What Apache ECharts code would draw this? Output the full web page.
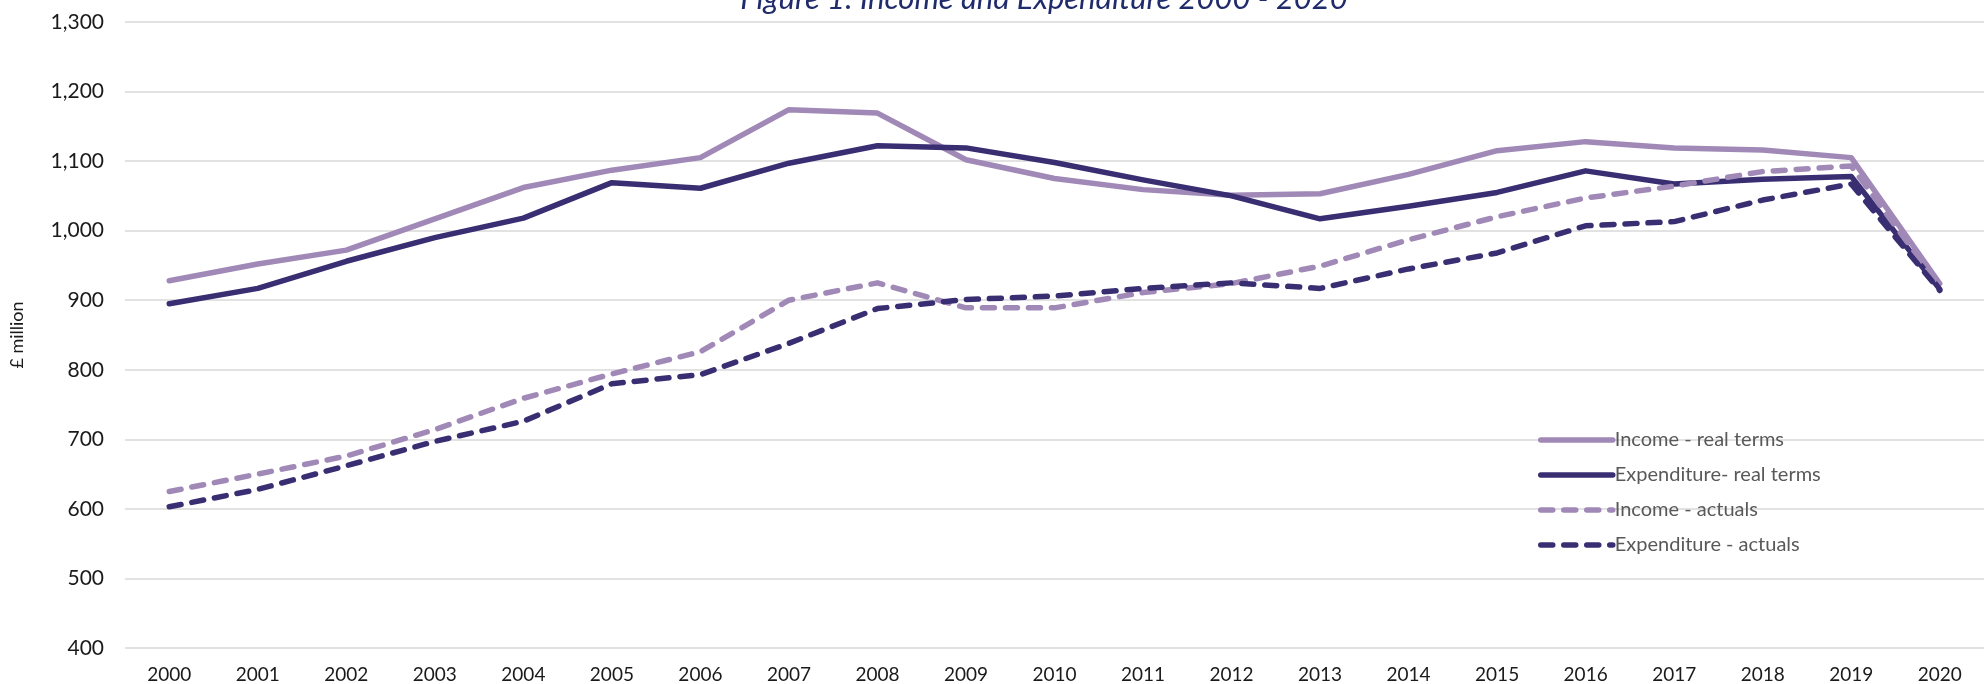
<!DOCTYPE html>
<html>
<head>
<meta charset="utf-8">
<script src="https://cdn.jsdelivr.net/npm/echarts@6/dist/echarts.min.js"></script>
<style>
html,body{margin:0;padding:0;background:#fff;}
#chart{width:1984px;height:684px;}
</style>
</head>
<body>
<div id="chart"></div>
<script>
const years = ['2000','2001','2002','2003','2004','2005','2006','2007','2008','2009','2010','2011','2012','2013','2014','2015','2016','2017','2018','2019','2020'];
const incomeReal = [928, 952, 972, 1017, 1062, 1087, 1105, 1174, 1169, 1102, 1075, 1059, 1051, 1053, 1081, 1115, 1128, 1119, 1116, 1105, 924];
const expenditureReal = [895, 917, 956, 990, 1018, 1069, 1061, 1097, 1122, 1119, 1098, 1073, 1050, 1017, 1035, 1055, 1086, 1067, 1074, 1078, 916];
const incomeActuals = [625, 650, 676, 714, 759, 794, 826, 900, 925, 889, 889, 911, 924, 949, 987, 1020, 1047, 1064, 1085, 1093, 920];
const expenditureActuals = [603, 628, 662, 697, 726, 780, 793, 838, 888, 901, 906, 917, 925, 917, 945, 968, 1007, 1013, 1044, 1067, 914];
const seriesNames = ['Income - real terms', 'Expenditure- real terms', 'Income - actuals', 'Expenditure - actuals'];
const yTicks = {min: 400, max: 1300, interval: 100};
const titleText = 'Figure 1: Income and Expenditure 2000 - 2020';

const LIGHT = '#A189B7';
const DARK = '#3A2E73';
const FONT = 'Lato, "Open Sans", sans-serif';
const dash = [12, 11];

const chart = echarts.init(document.getElementById('chart'), null, {renderer: 'canvas'});

function mk(name, data, color, dashed) {
  return {
    name: name,
    type: 'line',
    data: data,
    symbol: 'none',
    showSymbol: false,
    smooth: false,
    lineStyle: {color: color, width: 5.5, type: dashed ? dash : 'solid', cap: 'round', join: 'round'},
    itemStyle: {color: color},
    emphasis: {disabled: true},
    animation: false
  };
}

chart.setOption({
  animation: false,
  backgroundColor: '#ffffff',
  graphic: [{
    type: 'text',
    x: 1044,
    y: 14,
    style: {
      text: titleText,
      font: 'italic 31px ' + FONT,
      fill: '#1F2B6B',
      textAlign: 'center',
      textVerticalAlign: 'bottom'
    }
  }],
  grid: {left: 115, top: 22, width: 1884, height: 626.5, containLabel: false},
  legend: {
    orient: 'vertical',
    left: 1533,
    top: 425,
    itemWidth: 72,
    itemHeight: 14,
    itemGap: 15,
    data: seriesNames,
    itemStyle: {opacity: 0, borderWidth: 0},
    lineStyle: {width: 5.5, cap: 'round'},
    textStyle: {fontFamily: FONT, fontSize: 20, color: '#595959', padding: [0, 0, 0, -3]},
    selectedMode: false
  },
  xAxis: {
    type: 'category',
    data: years,
    boundaryGap: true,
    axisLine: {show: false},
    axisTick: {show: false},
    axisLabel: {fontFamily: FONT, fontSize: 19, color: '#1a1a1a', margin: 17, interval: 0}
  },
  yAxis: {
    type: 'value',
    min: yTicks.min,
    max: yTicks.max,
    interval: yTicks.interval,
    name: '£ million',
    nameLocation: 'middle',
    nameRotate: 90,
    nameGap: 99,
    nameTextStyle: {fontFamily: FONT, fontSize: 18, color: '#1a1a1a'},
    axisLine: {show: false},
    axisTick: {show: false},
    axisLabel: {
      fontFamily: FONT, fontSize: 21, color: '#1a1a1a', margin: 21,
      formatter: function (v) { return v.toLocaleString('en-GB'); }
    },
    splitLine: {show: true, lineStyle: {color: '#D9D9D9', width: 1.5}}
  },
  series: [
    mk(seriesNames[0], incomeReal, LIGHT, false),
    mk(seriesNames[1], expenditureReal, DARK, false),
    mk(seriesNames[2], incomeActuals, LIGHT, true),
    mk(seriesNames[3], expenditureActuals, DARK, true)
  ]
});
</script>
</body>
</html>
